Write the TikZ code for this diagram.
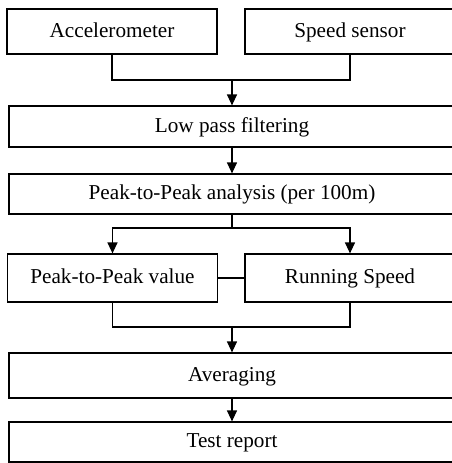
\documentclass[tikz,border=0pt]{standalone}
\usepackage{fontspec}
\setmainfont{Liberation Serif}
\usetikzlibrary{arrows.meta}

\tikzstyle{every node}=[font=\fontsize{10.6}{12}\selectfont, inner sep=0pt, text height=1.5ex, text depth=0.25ex]
\tikzstyle{block}=[draw, line width=0.6pt, minimum height=20pt]
\tikzstyle{wide}=[block, minimum width=223pt]
\tikzstyle{half}=[block, minimum width=105pt]
\tikzstyle{flow}=[line width=0.6pt, -{Triangle[length=5.5pt,width=5pt]}]

\begin{document}
\begin{tikzpicture}[x=0.5pt, y=-0.5pt, line width=0.6pt]
  \useasboundingbox (0,0) rectangle (452,463);
  % sensors
  \node[half, minimum height=22.5pt] (acc) at (112,31.5) {Accelerometer};
  \node[half, minimum height=22.5pt] (spd) at (350,31.5) {Speed sensor};
  % processing chain
  \node[wide, minimum height=20.5pt] (low) at (232,126.5) {Low pass filtering};
  \node[wide] (p2p) at (232,194) {Peak-to-Peak analysis (per 100m)};
  \node[half, minimum height=24pt] (val) at (112.5,278) {Peak-to-Peak value};
  \node[half, minimum height=24pt] (run) at (350,278) {Running Speed};
  \node[wide, minimum height=22.5pt] (avg) at (232,375.5) {Averaging};
  \node[wide] (rep) at (232,442) {Test report};
  % junctions
  \coordinate (m1) at (232,80);
  \coordinate (m2) at (232,228);
  \coordinate (m3) at (232,327);
  % connectors
  \draw (acc.south) |- (m1) -| (spd.south);
  \draw[flow] (m1) -- (low.north);
  \draw[flow] (low) -- (p2p);
  \draw (p2p.south) -- (m2);
  \draw[flow] (m2) -| (val.north);
  \draw[flow] (m2) -| (run.north);
  \draw (val) -- (run);
  \draw (val.south) |- (m3) -| (run.south);
  \draw[flow] (m3) -- (avg.north);
  \draw[flow] (avg) -- (rep);
\end{tikzpicture}
\end{document}
